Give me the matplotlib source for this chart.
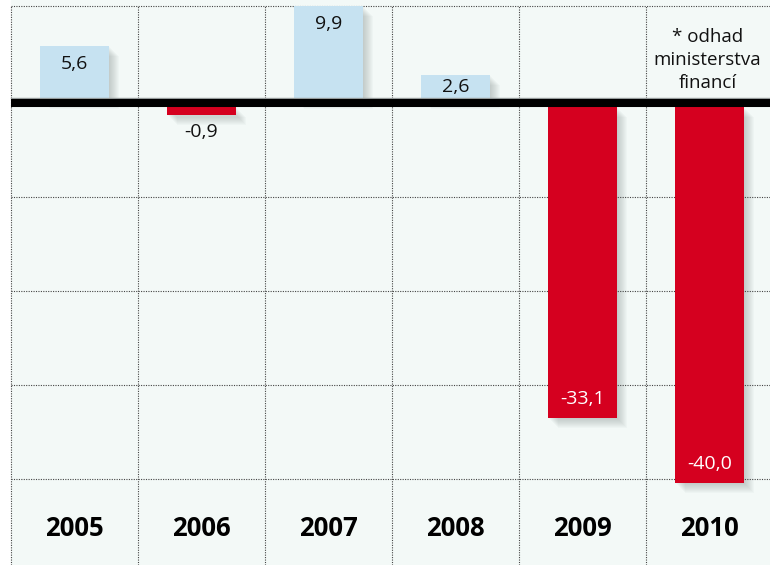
import numpy as np
import matplotlib.pyplot as plt
from matplotlib.patches import Rectangle

# saldo rozpoctu, mld. - 2010 je odhad
years = ['2005', '2006', '2007', '2008', '2009', '2010']
values = [5.6, -0.9, 9.9, 2.6, -33.1, -40.0]
grid_y = [-10, -20, -30, -40]
note = '* odhad\nministerstva\nfinancí'

blue = '#c6e2f1'
red = '#d5001f'
bg = '#f3f9f7'

plt.rcParams['font.family'] = ['Open Sans', 'DejaVu Sans']

fig = plt.figure(figsize=(7.7, 5.65), dpi=100)
ax = fig.add_axes([0, 0, 1, 1])
ax.set_facecolor('white')

# px -> data (column = 127 px, 1 unit = 9.4 px)
px_x = 1 / 127.0
px_y = 1 / 9.4
ax.set_xlim(-74.5 * px_x, (770 - 74.5) * px_x)
ax.set_ylim(-462 * px_y, 103 * px_y)

ax.axvspan(-0.5, 6, color=bg, zorder=0)

x = np.arange(len(years))
w = 0.55
half = 4 * px_y   # half of the thick zero line
vals = np.array(values)
base = np.where(vals > 0, half, -half)

# soft drop shadow
for v, b, xi in zip(vals, base, x):
    for k in range(1, 11):
        off = k * 1.0
        ax.add_patch(Rectangle((xi - w / 2 + off * px_x, b + min(v, 0) - off * px_y),
                               w, abs(v), color='#6f7b7b', alpha=0.04, lw=0, zorder=1))

colors = [blue if v > 0 else red for v in values]
ax.bar(x, vals, width=w, bottom=base, color=colors, zorder=2)

# grid
dot = dict(color='#444444', lw=0.8, ls=(0, (1, 1.2)), zorder=1.5)
for xv in np.arange(-0.5, 5, 1.0):
    ax.plot([xv, xv], [-462 * px_y, 97 * px_y], **dot)
for yv in grid_y + [97 * px_y]:
    ax.plot([-0.5, 6], [yv, yv], **dot)

# zero line
ax.plot([-0.5, 6], [5 * px_y, 5 * px_y], color='#9aa0a0', lw=1, zorder=2.5)
ax.plot([-0.5, 6], [0, 0], color='black', lw=5.8, solid_capstyle='butt', zorder=3)

for xi, v, b in zip(x, vals, base):
    s = ('%.1f' % v).replace('.', ',')
    top = b + v
    if v > 0:
        if v / px_y < 40:
            ax.text(xi, b + v / 2, s, ha='center', va='center', fontsize=14,
                    color='#111111', zorder=4)
        else:
            ax.annotate(s, (xi, top), xytext=(0, -13), textcoords='offset points',
                        ha='center', va='center', fontsize=14, color='#111111', zorder=4)
    elif abs(v) < 2:
        ax.annotate(s, (xi, top), xytext=(0, -12), textcoords='offset points',
                    ha='center', va='center', fontsize=14, color='#111111', zorder=4)
    else:
        ax.annotate(s, (xi, top), xytext=(0, 14), textcoords='offset points',
                    ha='center', va='center', fontsize=14, color='white', zorder=4)

for xi, y in zip(x, years):
    ax.text(xi, -(528 - 103) * px_y, y, ha='center', va='center', fontsize=18.5,
            fontweight='bold', color='black')

ax.text(x[-1] - 2 * px_x, (103 - 60) * px_y, note, ha='center', va='center',
        fontsize=13.5, linespacing=1.35, color='#111111')

ax.axis('off')
fig.savefig('out.png', dpi=100)
